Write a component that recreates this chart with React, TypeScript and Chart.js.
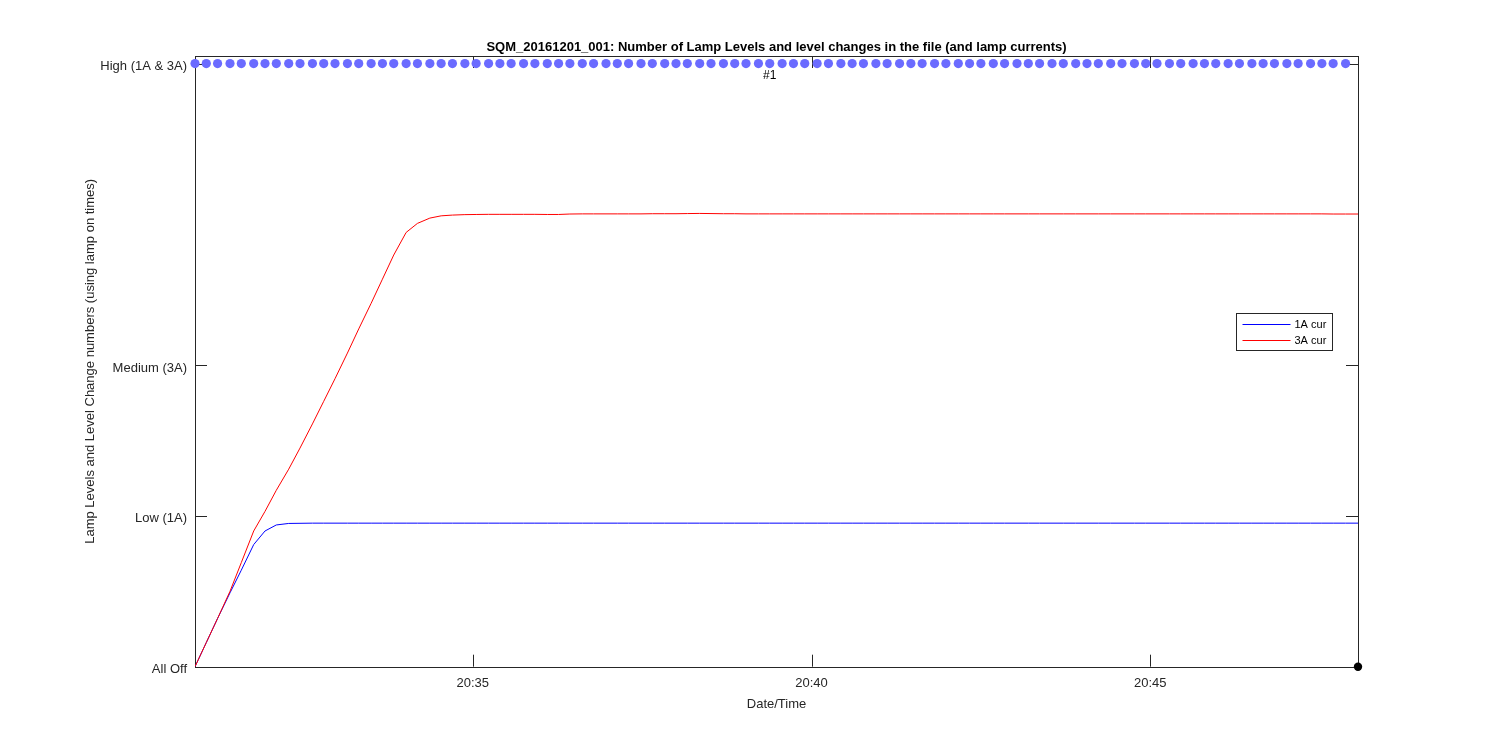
import React, { useEffect, useRef } from 'react';
import { Chart, registerables } from 'chart.js';

Chart.register(...registerables);

// Sample times, seconds after 20:30:00
const sampleTimes = [
  54, 64, 74, 85, 95, 106, 116, 126, 137, 147, 158, 168, 178, 189, 199, 210, 220, 230, 241, 251,
  262, 272, 282, 293, 303, 314, 324, 334, 345, 355, 366, 376, 386, 397, 407, 418, 428, 438, 449, 459,
  470, 480, 490, 501, 511, 522, 532, 542, 553, 563, 574, 584, 594, 605, 615, 626, 636, 646, 657, 667,
  678, 688, 698, 709, 719, 730, 740, 750, 761, 771, 782, 792, 802, 813, 823, 834, 844, 854, 865, 875,
  886, 896, 906, 917, 927, 938, 948, 958, 969, 979, 990, 1000, 1010, 1021, 1031, 1042, 1052, 1062, 1073, 1084,
];

const current1A = [
  0, 0.16, 0.32, 0.49, 0.64, 0.81, 0.9, 0.94, 0.95, 0.951, 0.952, 0.952, 0.952, 0.952, 0.952, 0.952, 0.952, 0.952, 0.952, 0.952,
  0.952, 0.952, 0.952, 0.952, 0.952, 0.952, 0.952, 0.952, 0.952, 0.952, 0.952, 0.952, 0.952, 0.952, 0.952, 0.952, 0.952, 0.952, 0.952, 0.952,
  0.952, 0.952, 0.952, 0.952, 0.952, 0.952, 0.952, 0.952, 0.952, 0.952, 0.952, 0.952, 0.952, 0.952, 0.952, 0.952, 0.952, 0.952, 0.952, 0.952,
  0.952, 0.952, 0.952, 0.952, 0.952, 0.952, 0.952, 0.952, 0.952, 0.952, 0.952, 0.952, 0.952, 0.952, 0.952, 0.952, 0.952, 0.952, 0.952, 0.952,
  0.952, 0.952, 0.952, 0.952, 0.952, 0.952, 0.952, 0.952, 0.952, 0.952, 0.952, 0.952, 0.952, 0.952, 0.952, 0.952, 0.952, 0.952, 0.952, 0.952,
];

const current3A = [
  0, 0.16, 0.32, 0.5, 0.69, 0.9, 1.03, 1.17, 1.31, 1.45, 1.61, 1.76, 1.91, 2.08, 2.24, 2.41, 2.57, 2.73, 2.88, 2.94,
  2.975, 2.99, 2.995, 2.998, 2.999, 3.0, 3.0, 3.0, 3.0, 3.0, 2.999, 2.999, 3.002, 3.003, 3.003, 3.003, 3.003, 3.003, 3.003, 3.004,
  3.004, 3.004, 3.005, 3.006, 3.005, 3.004, 3.004, 3.003, 3.003, 3.003, 3.003, 3.003, 3.003, 3.003, 3.003, 3.003, 3.003, 3.003, 3.003, 3.003,
  3.003, 3.003, 3.003, 3.003, 3.003, 3.003, 3.003, 3.003, 3.003, 3.003, 3.003, 3.003, 3.003, 3.003, 3.003, 3.003, 3.003, 3.003, 3.003, 3.003,
  3.003, 3.003, 3.003, 3.003, 3.003, 3.003, 3.003, 3.003, 3.003, 3.003, 3.003, 3.003, 3.003, 3.003, 3.003, 3.003, 3.003, 3.002, 3.002, 3.002,
];

// Lamp level at each sample time (first 99 samples)
const lampLevel = [
  4, 4, 4, 4, 4, 4, 4, 4, 4, 4, 4, 4, 4, 4, 4, 4, 4, 4, 4, 4,
  4, 4, 4, 4, 4, 4, 4, 4, 4, 4, 4, 4, 4, 4, 4, 4, 4, 4, 4, 4,
  4, 4, 4, 4, 4, 4, 4, 4, 4, 4, 4, 4, 4, 4, 4, 4, 4, 4, 4, 4,
  4, 4, 4, 4, 4, 4, 4, 4, 4, 4, 4, 4, 4, 4, 4, 4, 4, 4, 4, 4,
  4, 4, 4, 4, 4, 4, 4, 4, 4, 4, 4, 4, 4, 4, 4, 4, 4, 4, 4,
];

const endMarkerTime = [1084];
const endMarkerValue = [0];

const changeTimes = [563];
const changeLabels = ['#1'];

const xTickValues = [300, 600, 900];
const xTickLabels = ['20:35', '20:40', '20:45'];
const yTickValues = [0, 1, 2, 4];
const yTickLabels = ['All Off', 'Low (1A)', 'Medium (3A)', 'High (1A & 3A)'];

const legendLabels = ['1A cur', '3A cur'];
const legendColors = ['#0000ff', '#ff0000'];

const TITLE = 'SQM_20161201_001: Number of Lamp Levels and level changes in the file (and lamp currents)';
const X_TITLE = 'Date/Time';
const Y_TITLE = 'Lamp Levels and Level Change numbers (using lamp on times)';

const FONT = '"Liberation Sans", Arial, Helvetica, sans-serif';
const AXIS_COLOR = '#262626';

const decorPlugin = {
  id: 'matlabDecor',
  beforeDatasetsDraw(chart: any) {
    const { ctx, chartArea } = chart;
    const { left, right, top, bottom } = chartArea;
    const xs = chart.scales.x;
    const ys = chart.scales.y;
    ctx.save();
    ctx.strokeStyle = AXIS_COLOR;
    ctx.lineWidth = 1;
    ctx.strokeRect(Math.round(left) + 0.5, Math.round(top) + 0.5, Math.round(right - left), Math.round(bottom - top));
    const tl = 12;
    ctx.beginPath();
    xTickValues.forEach((v) => {
      const px = Math.round(xs.getPixelForValue(v)) + 0.5;
      ctx.moveTo(px, bottom);
      ctx.lineTo(px, bottom - tl);
      ctx.moveTo(px, top);
      ctx.lineTo(px, top + tl);
    });
    yTickValues.forEach((v) => {
      const py = Math.round(ys.getPixelForValue(v)) + 0.5;
      ctx.moveTo(left, py);
      ctx.lineTo(left + tl, py);
      ctx.moveTo(right, py);
      ctx.lineTo(right - tl, py);
    });
    ctx.stroke();

    // tick labels
    ctx.fillStyle = AXIS_COLOR;
    ctx.font = `13px ${FONT}`;
    ctx.textBaseline = 'middle';
    ctx.textAlign = 'right';
    yTickValues.forEach((v, i) => {
      ctx.fillText(yTickLabels[i], left - 8, ys.getPixelForValue(v) + 3);
    });
    ctx.textAlign = 'center';
    xTickValues.forEach((v, i) => {
      ctx.fillText(xTickLabels[i], xs.getPixelForValue(v), bottom + 17);
    });
    ctx.restore();
  },
  afterDatasetsDraw(chart: any) {
    const { ctx, chartArea } = chart;
    const { left, right, top, bottom } = chartArea;
    const xs = chart.scales.x;
    const ys = chart.scales.y;
    const cx = (left + right) / 2;
    ctx.save();
    ctx.fillStyle = '#000';
    ctx.font = `bold 13px ${FONT}`;
    ctx.textAlign = 'center';
    ctx.textBaseline = 'middle';
    ctx.fillText(TITLE, cx, 47);
    ctx.fillStyle = AXIS_COLOR;
    ctx.font = `13px ${FONT}`;
    ctx.fillText(X_TITLE, cx, 704);
    ctx.save();
    ctx.translate(90, (top + bottom) / 2);
    ctx.rotate(-Math.PI / 2);
    ctx.fillText(Y_TITLE, 0, 0);
    ctx.restore();
    ctx.fillStyle = '#000';
    ctx.font = `12px ${FONT}`;
    changeTimes.forEach((t, i) => {
      ctx.fillText(changeLabels[i], xs.getPixelForValue(t), ys.getPixelForValue(4) + 12);
    });
    // legend
    const lx = 1236.5, ly = 313.5, lw = 96, lh = 37;
    ctx.fillStyle = '#fff';
    ctx.fillRect(lx, ly, lw, lh);
    ctx.strokeStyle = AXIS_COLOR;
    ctx.lineWidth = 1;
    ctx.strokeRect(lx, ly, lw, lh);
    legendLabels.forEach((lab, i) => {
      const y = Math.floor(ly + 11 + i * 16) + 0.5;
      ctx.beginPath();
      ctx.lineWidth = 1;
      ctx.strokeStyle = legendColors[i];
      ctx.moveTo(lx + 6, y);
      ctx.lineTo(lx + 54, y);
      ctx.stroke();
      ctx.fillStyle = '#000';
      ctx.font = `11px ${FONT}`;
      ctx.textAlign = 'left';
      ctx.fillText(lab, lx + 58, y);
    });
    ctx.restore();
  },
};

export default function App() {
  const canvasRef = useRef<HTMLCanvasElement | null>(null);

  useEffect(() => {
    document.body.style.margin = '0';
    document.body.style.overflow = 'hidden';
    const canvas = canvasRef.current;
    if (!canvas) return;

    const toPoints = (ts: number[], vs: number[]) => vs.map((v, i) => ({ x: ts[i], y: v }));

    const chart = new Chart(canvas, {
      type: 'line',
      data: {
        datasets: [
          {
            label: 'levels',
            data: toPoints(sampleTimes, lampLevel),
            showLine: false,
            pointRadius: 4.6,
            pointBackgroundColor: '#6b6bff',
            pointBorderWidth: 0,
            borderColor: '#6b6bff',
            clip: false,
          } as any,
          {
            label: 'end',
            data: toPoints(endMarkerTime, endMarkerValue),
            showLine: false,
            pointRadius: 4.2,
            pointBackgroundColor: '#000',
            pointBorderWidth: 0,
            clip: false,
          } as any,
          {
            label: '3A cur',
            data: toPoints(sampleTimes, current3A),
            borderColor: '#ff0000',
            borderWidth: 1,
            pointRadius: 0,
            tension: 0,
          },
          {
            label: '1A cur',
            data: toPoints(sampleTimes, current1A),
            borderColor: '#0000ff',
            borderWidth: 1,
            pointRadius: 0,
            tension: 0,
          },
        ],
      },
      options: {
        animation: false,
        responsive: false,
        events: [],
        layout: { padding: { top: 56, right: 142, bottom: 0, left: 0 } },
        plugins: {
          legend: { display: false },
          title: { display: false },
          tooltip: { enabled: false },
        },
        scales: {
          x: {
            type: 'linear',
            min: 54,
            max: 1084,
            grid: { display: false, drawTicks: false },
            border: { display: false },
            afterFit: (s: any) => {
              s.height = 83.3;
            },
            ticks: { display: false },
          },
          y: {
            type: 'linear',
            min: 0,
            max: 4.05,
            grid: { display: false, drawTicks: false },
            border: { display: false },
            afterFit: (s: any) => {
              s.width = 195;
            },
            ticks: { display: false },
          },
        },
      },
      plugins: [decorPlugin],
    });

    return () => chart.destroy();
  }, []);

  return (
    <div style={{ width: 1500, height: 750, background: '#fff' }}>
      <canvas ref={canvasRef} width={1500} height={750} style={{ display: 'block' }} />
    </div>
  );
}
